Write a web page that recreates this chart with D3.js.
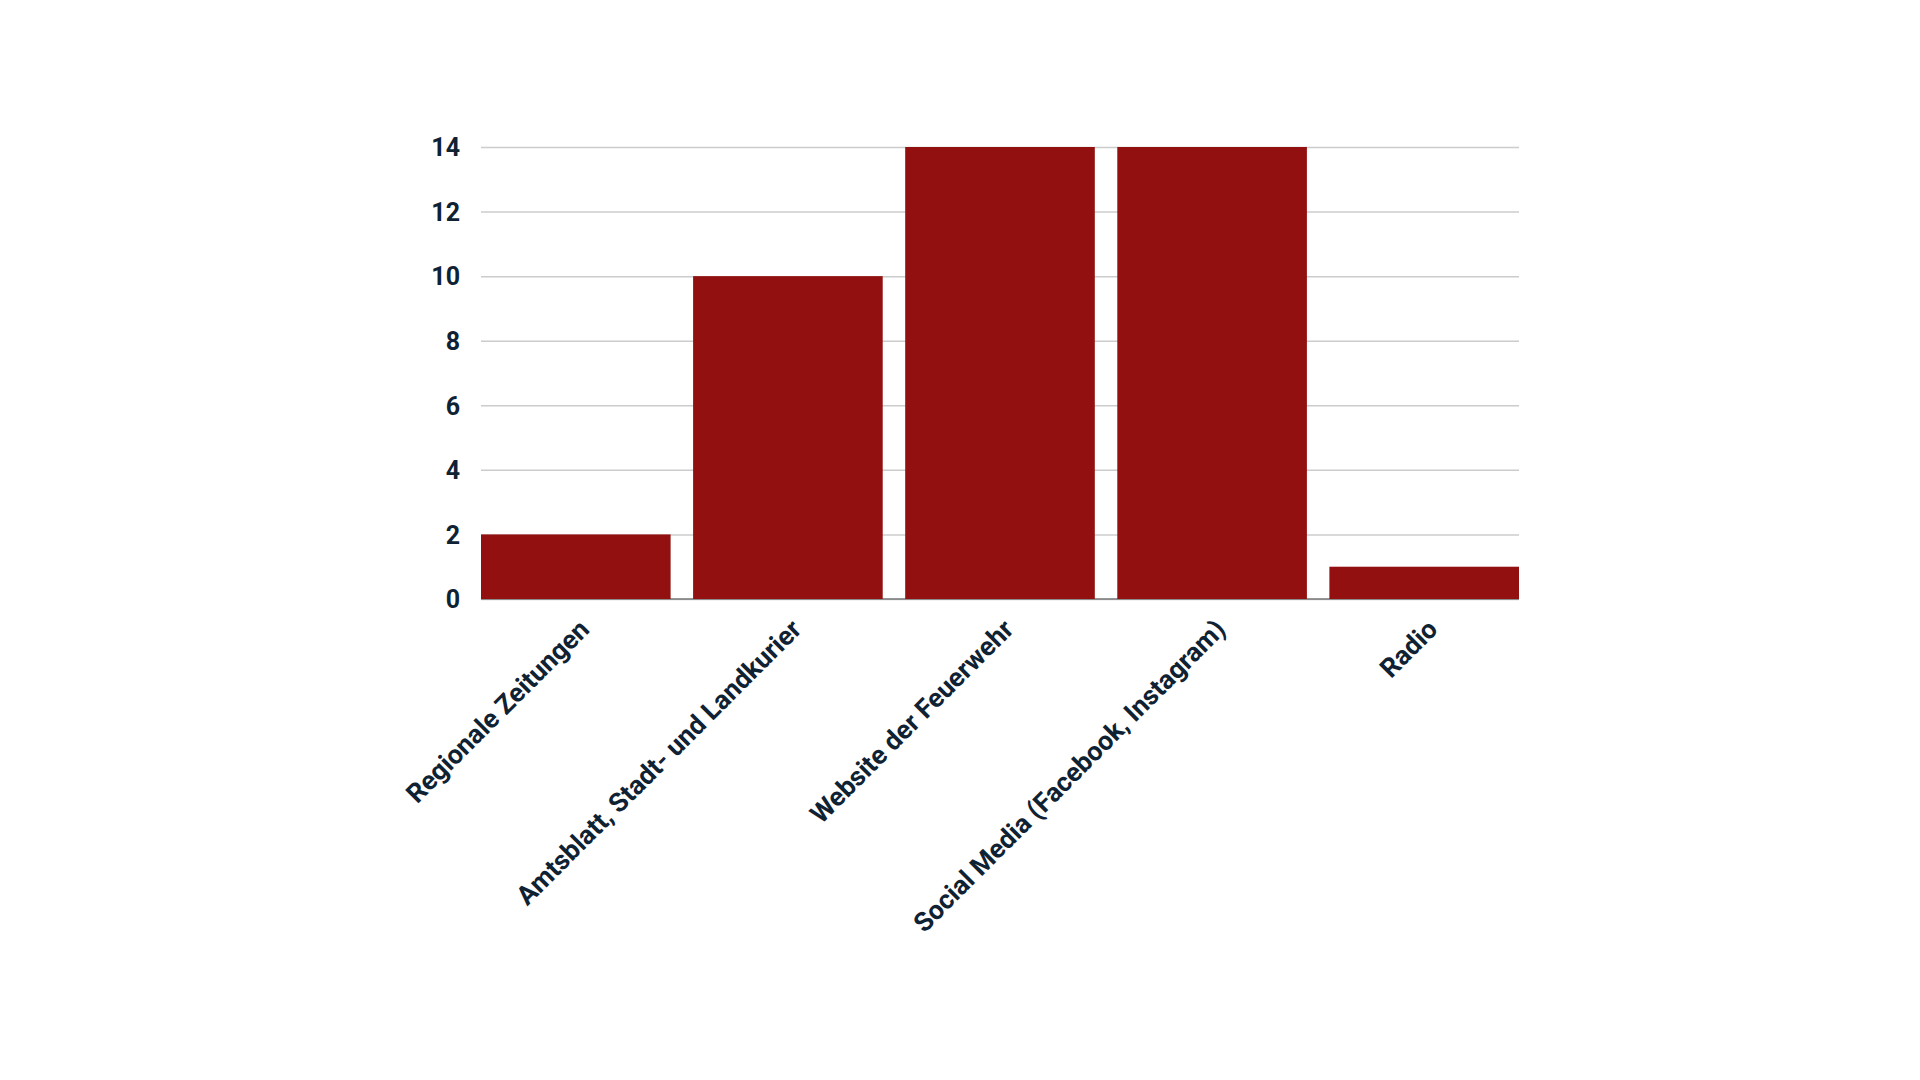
<!DOCTYPE html>
<html>
<head>
<meta charset="utf-8">
<script src="https://cdn.jsdelivr.net/npm/d3@7"></script>
<style>
  html, body { margin: 0; padding: 0; background: #fff; }
  svg text { font-family: Roboto, "Noto Sans", sans-serif; font-weight: bold; fill: #0f2233; }
</style>
</head>
<body>
<svg id="chart"></svg>
<script>
const categories = ["Regionale Zeitungen", "Amtsblatt, Stadt- und Landkurier", "Website der Feuerwehr", "Social Media (Facebook, Instagram)", "Radio"];
const values = [2, 10, 14, 14, 1];
const yTicks = [0, 2, 4, 6, 8, 10, 12, 14];

const width = 1920, height = 1080;
const margin = {top: 147, right: 401, bottom: 481, left: 481};
const w = width - margin.left - margin.right,
      h = height - margin.top - margin.bottom;

const svg = d3.select("svg#chart")
    .attr("width", width)
    .attr("height", height);

const g = svg.append("g")
    .attr("transform", "translate(" + margin.left + "," + margin.top + ")");

const x = d3.scaleBand()
    .domain(categories)
    .range([0, w])
    .paddingInner(0.106)
    .paddingOuter(0);

const y = d3.scaleLinear()
    .domain([0, 14])
    .range([h, 0]);

// gridlines + labels
const yAxis = d3.axisLeft(y)
    .tickValues(yTicks)
    .tickSize(-w)
    .tickPadding(21);

g.append("g")
    .attr("class", "y axis")
    .call(yAxis)
    .call(a => a.select(".domain").remove())
    .call(a => a.selectAll("line").attr("stroke", "#cccccc").attr("stroke-width", 1.5))
    .call(a => a.selectAll("text").style("font-size", "25px").attr("dy", "0.35em"));

// baseline
g.append("line")
    .attr("x1", 0).attr("x2", w)
    .attr("y1", y(0)).attr("y2", y(0))
    .attr("stroke", "#777").attr("stroke-width", 1.5);

g.selectAll("rect.bar")
    .data(values)
    .enter().append("rect")
    .attr("class", "bar")
    .attr("x", (d, i) => x(categories[i]))
    .attr("y", d => y(d))
    .attr("width", x.bandwidth())
    .attr("height", d => y(0) - y(d))
    .style("fill", "#921010");

g.selectAll("text.xlabel")
    .data(categories)
    .enter().append("text")
    .attr("class", "xlabel")
    .attr("text-anchor", "end")
    .attr("transform", d => "translate(" + (x(d) + x.bandwidth() / 2 + 15) + "," + (h + 32) + ") rotate(-45)")
    .style("font-size", "26.5px")
    .text(d => d);
</script>
</body>
</html>
